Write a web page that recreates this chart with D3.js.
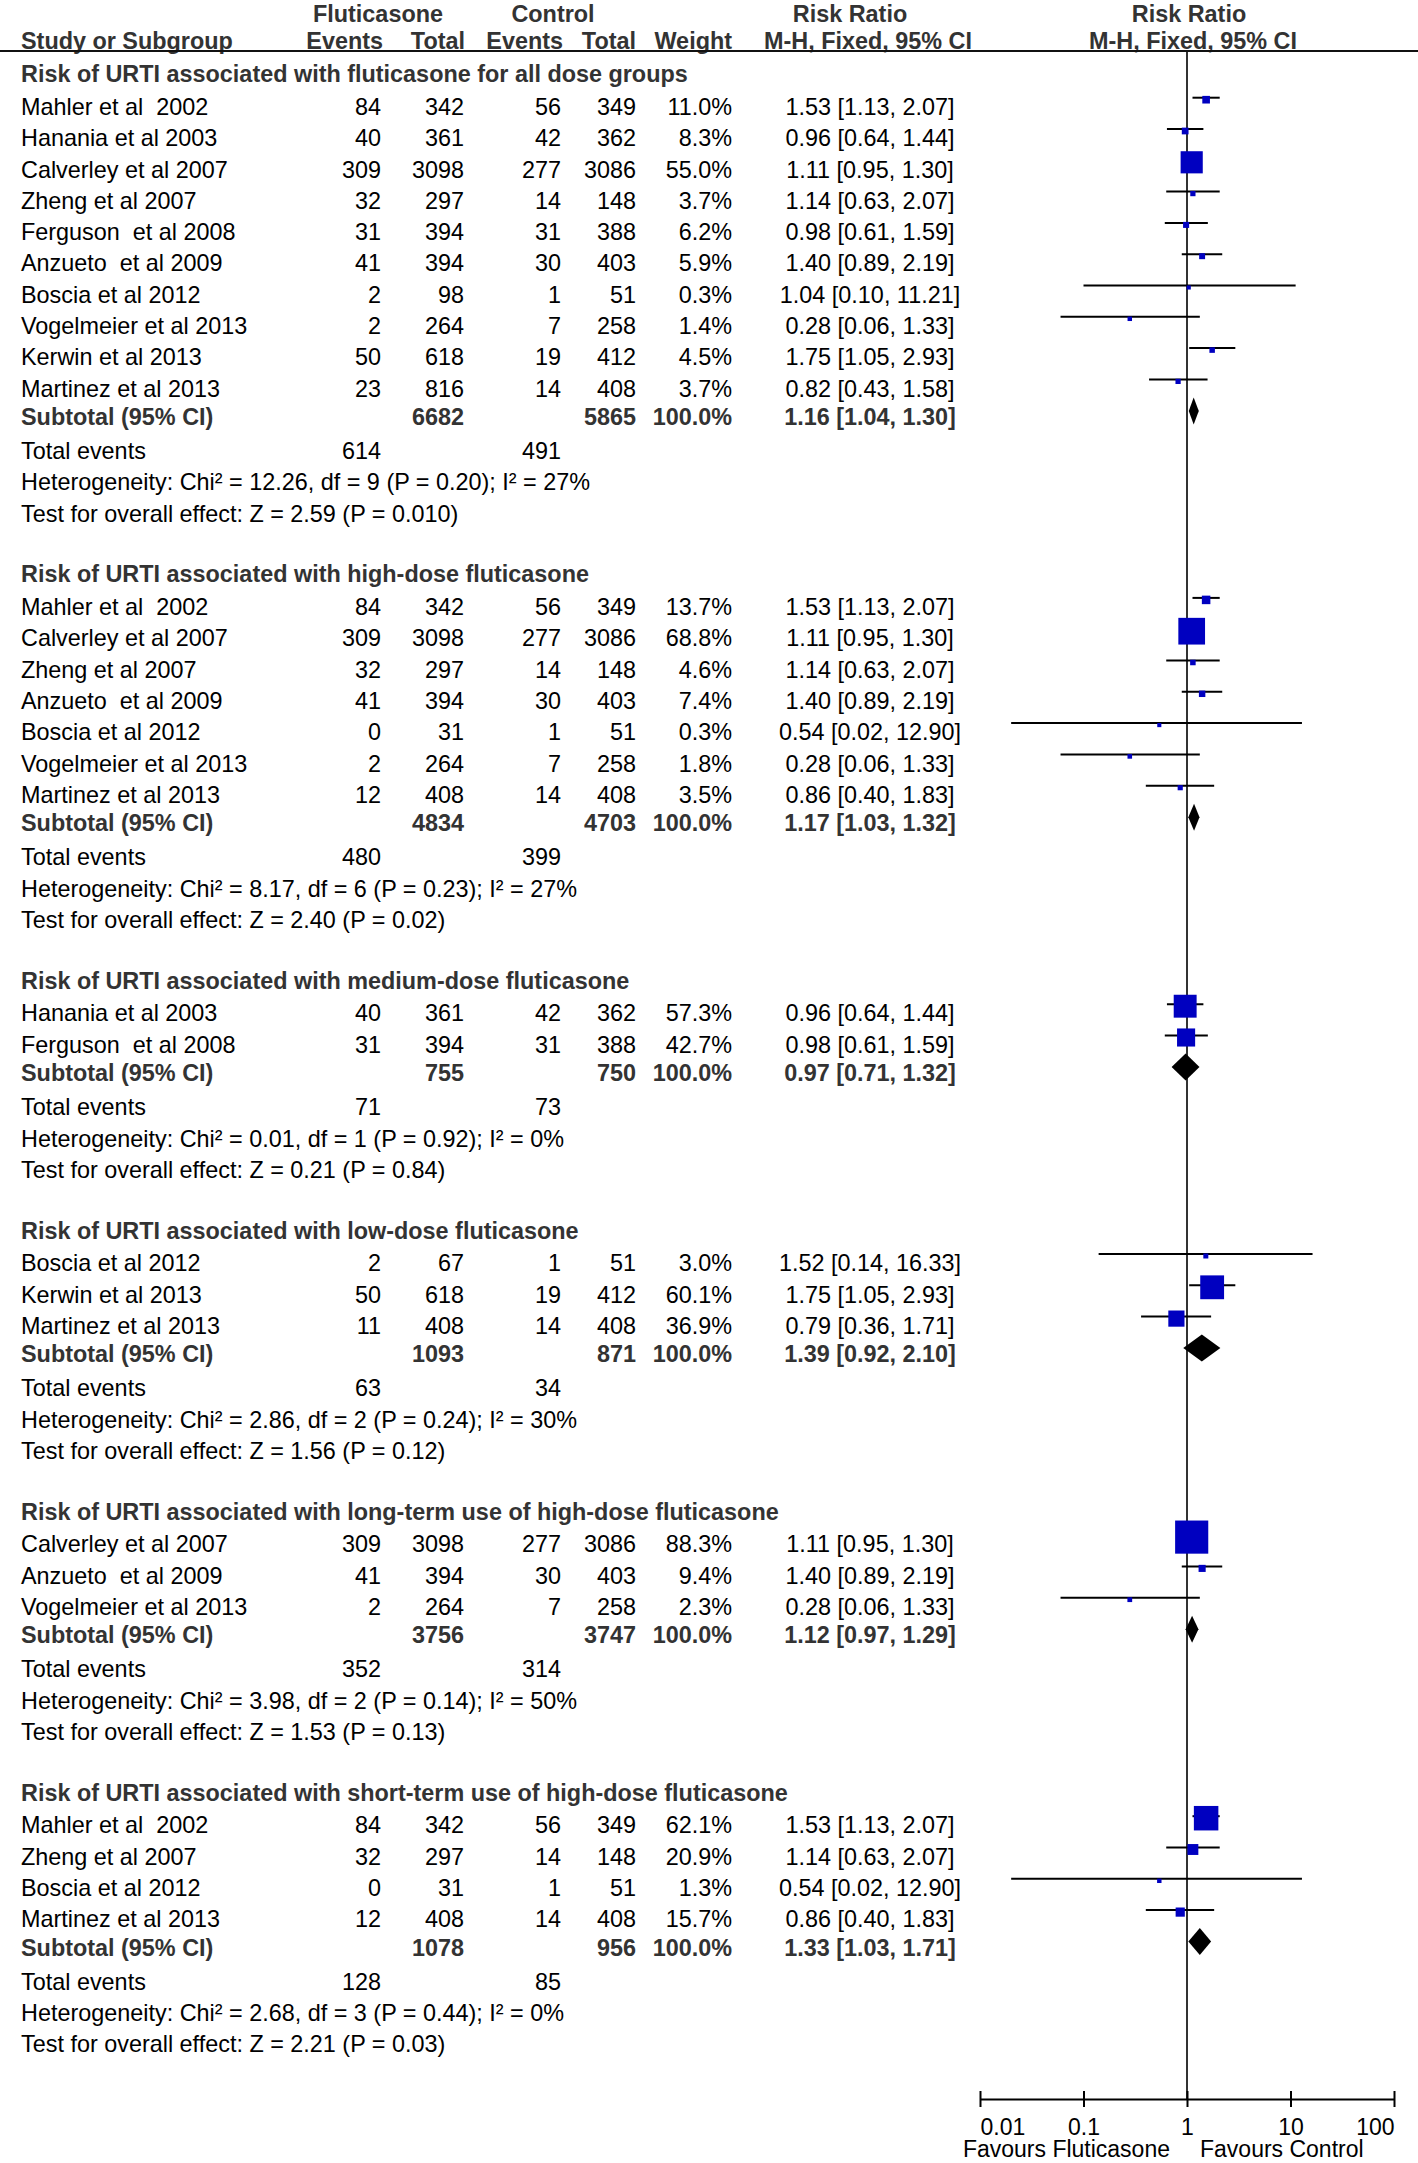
<!DOCTYPE html>
<html><head><meta charset="utf-8">
<script src="https://cdn.jsdelivr.net/npm/d3@7"></script>
<style>
body{margin:0;background:#fff}
svg{display:block}
text{font-family:"Liberation Sans",Arial,Helvetica,sans-serif;white-space:pre;}
</style>
</head><body><svg id="chart"></svg>
<script>
// ---------- DATA ----------
const groupTitles = [
  "Risk of URTI associated with fluticasone for all dose groups",
  "Risk of URTI associated with high-dose fluticasone",
  "Risk of URTI associated with medium-dose fluticasone",
  "Risk of URTI associated with low-dose fluticasone",
  "Risk of URTI associated with long-term use of high-dose fluticasone",
  "Risk of URTI associated with short-term use of high-dose fluticasone"
];
const studyNames = [
  ["Mahler et al  2002","Hanania et al 2003","Calverley et al 2007","Zheng et al 2007","Ferguson  et al 2008","Anzueto  et al 2009","Boscia et al 2012","Vogelmeier et al 2013","Kerwin et al 2013","Martinez et al 2013"],
  ["Mahler et al  2002","Calverley et al 2007","Zheng et al 2007","Anzueto  et al 2009","Boscia et al 2012","Vogelmeier et al 2013","Martinez et al 2013"],
  ["Hanania et al 2003","Ferguson  et al 2008"],
  ["Boscia et al 2012","Kerwin et al 2013","Martinez et al 2013"],
  ["Calverley et al 2007","Anzueto  et al 2009","Vogelmeier et al 2013"],
  ["Mahler et al  2002","Zheng et al 2007","Boscia et al 2012","Martinez et al 2013"]
];
const fluEvents = [
  [84,40,309,32,31,41,2,2,50,23],
  [84,309,32,41,0,2,12],
  [40,31],
  [2,50,11],
  [309,41,2],
  [84,32,0,12]
];
const fluTotal = [
  [342,361,3098,297,394,394,98,264,618,816],
  [342,3098,297,394,31,264,408],
  [361,394],
  [67,618,408],
  [3098,394,264],
  [342,297,31,408]
];
const ctlEvents = [
  [56,42,277,14,31,30,1,7,19,14],
  [56,277,14,30,1,7,14],
  [42,31],
  [1,19,14],
  [277,30,7],
  [56,14,1,14]
];
const ctlTotal = [
  [349,362,3086,148,388,403,51,258,412,408],
  [349,3086,148,403,51,258,408],
  [362,388],
  [51,412,408],
  [3086,403,258],
  [349,148,51,408]
];
const weights = [
  [11.0,8.3,55.0,3.7,6.2,5.9,0.3,1.4,4.5,3.7],
  [13.7,68.8,4.6,7.4,0.3,1.8,3.5],
  [57.3,42.7],
  [3.0,60.1,36.9],
  [88.3,9.4,2.3],
  [62.1,20.9,1.3,15.7]
];
const riskRatio = [
  [1.53,0.96,1.11,1.14,0.98,1.40,1.04,0.28,1.75,0.82],
  [1.53,1.11,1.14,1.40,0.54,0.28,0.86],
  [0.96,0.98],
  [1.52,1.75,0.79],
  [1.11,1.40,0.28],
  [1.53,1.14,0.54,0.86]
];
const ciLow = [
  [1.13,0.64,0.95,0.63,0.61,0.89,0.10,0.06,1.05,0.43],
  [1.13,0.95,0.63,0.89,0.02,0.06,0.40],
  [0.64,0.61],
  [0.14,1.05,0.36],
  [0.95,0.89,0.06],
  [1.13,0.63,0.02,0.40]
];
const ciHigh = [
  [2.07,1.44,1.30,2.07,1.59,2.19,11.21,1.33,2.93,1.58],
  [2.07,1.30,2.07,2.19,12.90,1.33,1.83],
  [1.44,1.59],
  [16.33,2.93,1.71],
  [1.30,2.19,1.33],
  [2.07,2.07,12.90,1.83]
];
const subFluTotal = [6682,4834,755,1093,3756,1078];
const subCtlTotal = [5865,4703,750,871,3747,956];
const subRR   = [1.16,1.17,0.97,1.39,1.12,1.33];
const subLow  = [1.04,1.03,0.71,0.92,0.97,1.03];
const subHigh = [1.30,1.32,1.32,2.10,1.29,1.71];
const totalFluEvents = [614,480,71,63,352,128];
const totalCtlEvents = [491,399,73,34,314,85];
const heterogeneity = [
  "Heterogeneity: Chi\u00B2 = 12.26, df = 9 (P = 0.20); I\u00B2 = 27%",
  "Heterogeneity: Chi\u00B2 = 8.17, df = 6 (P = 0.23); I\u00B2 = 27%",
  "Heterogeneity: Chi\u00B2 = 0.01, df = 1 (P = 0.92); I\u00B2 = 0%",
  "Heterogeneity: Chi\u00B2 = 2.86, df = 2 (P = 0.24); I\u00B2 = 30%",
  "Heterogeneity: Chi\u00B2 = 3.98, df = 2 (P = 0.14); I\u00B2 = 50%",
  "Heterogeneity: Chi\u00B2 = 2.68, df = 3 (P = 0.44); I\u00B2 = 0%"
];
const overallEffect = [
  "Test for overall effect: Z = 2.59 (P = 0.010)",
  "Test for overall effect: Z = 2.40 (P = 0.02)",
  "Test for overall effect: Z = 0.21 (P = 0.84)",
  "Test for overall effect: Z = 1.56 (P = 0.12)",
  "Test for overall effect: Z = 1.53 (P = 0.13)",
  "Test for overall effect: Z = 2.21 (P = 0.03)"
];
const tickValues = [0.01, 0.1, 1, 10, 100];
const tickLabels = ["0.01", "0.1", "1", "10", "100"];
const favoursLeft = "Favours Fluticasone";
const favoursRight = "Favours Control";

// ---------- LAYOUT ----------
const W = 1418, H = 2163;
const FS = 23.4;
const svg = d3.select("#chart").attr("width", W).attr("height", H);
svg.append("rect").attr("width", W).attr("height", H).attr("fill", "#fff");

const col = { name: 21, fluEv: 381, fluTot: 464, ctlEv: 561, ctlTot: 636, weight: 732, rr: 870 };
const x = d3.scaleLog().domain([0.01, 100]).range([980, 1394]);
const boxSize = d3.scaleLinear().domain([0, 100]).range([4, 37]);
const f2 = d3.format(".2f"), f1 = d3.format(".1f");
const ciText = (r, l, h) => `${f2(r)} [${f2(l)}, ${f2(h)}]`;

const g = svg.append("g");
function txt(xp, yc, s, anchor, bold, size) {
  g.append("text").attr("x", xp).attr("y", yc + 8.2)
    .attr("xml:space", "preserve")
    .attr("text-anchor", anchor || "start")
    .attr("font-size", size || FS)
    .attr("font-weight", bold ? "bold" : "normal")
    .attr("fill", bold ? "#333" : "#000")
    .text(s);
}

// header
const hy1 = 13.5;
txt(378, hy1, "Fluticasone", "middle", true);
txt(553, hy1, "Control", "middle", true);
txt(850, hy1, "Risk Ratio", "middle", true);
txt(1189, hy1, "Risk Ratio", "middle", true);
const hy = 40.5;
txt(col.name, hy, "Study or Subgroup", "start", true);
txt(col.fluEv + 2, hy, "Events", "end", true);
txt(col.fluTot + 1, hy, "Total", "end", true);
txt(col.ctlEv + 2, hy, "Events", "end", true);
txt(col.ctlTot, hy, "Total", "end", true);
txt(col.weight, hy, "Weight", "end", true);
txt(868, hy, "M-H, Fixed, 95% CI", "middle", true);
txt(1193, hy, "M-H, Fixed, 95% CI", "middle", true);

const axisY = 2099;
// vertical line of no effect
svg.append("line").attr("x1", x(1)).attr("x2", x(1)).attr("y1", 51).attr("y2", axisY)
  .attr("stroke", "#333").attr("stroke-width", 2);
// header rule
svg.append("line").attr("x1", 0).attr("x2", W).attr("y1", 51).attr("y2", 51)
  .attr("stroke", "#111").attr("stroke-width", 2);

const P = 31.3;
let y = 74;
const marks = svg.append("g");
groupTitles.forEach((title, gi) => {
  txt(col.name, y, title, "start", true);
  y += 32.7;
  studyNames[gi].forEach((name, i) => {
    txt(col.name, y, name);
    txt(col.fluEv, y, fluEvents[gi][i], "end");
    txt(col.fluTot, y, fluTotal[gi][i], "end");
    txt(col.ctlEv, y, ctlEvents[gi][i], "end");
    txt(col.ctlTot, y, ctlTotal[gi][i], "end");
    txt(col.weight, y, f1(weights[gi][i]) + "%", "end");
    txt(col.rr, y, ciText(riskRatio[gi][i], ciLow[gi][i], ciHigh[gi][i]), "middle");
    const ly = y - 9;
    marks.append("line").attr("x1", x(ciLow[gi][i])).attr("x2", x(ciHigh[gi][i]))
      .attr("y1", ly).attr("y2", ly).attr("stroke", "#000").attr("stroke-width", 2);
    const s = boxSize(weights[gi][i]);
    marks.append("rect").attr("x", x(riskRatio[gi][i]) - s / 2).attr("y", ly + 2 - s / 2)
      .attr("width", s).attr("height", s).attr("fill", "#0000c0");
    if (i < studyNames[gi].length - 1) y += P;
  });
  y += 28.5;
  txt(col.name, y, "Subtotal (95% CI)", "start", true);
  txt(col.fluTot, y, subFluTotal[gi], "end", true);
  txt(col.ctlTot, y, subCtlTotal[gi], "end", true);
  txt(col.weight, y, "100.0%", "end", true);
  txt(col.rr, y, ciText(subRR[gi], subLow[gi], subHigh[gi]), "middle", true);
  const dy = y - 6, dh = 13.5;
  marks.append("path")
    .attr("d", `M${x(subLow[gi])},${dy}L${x(subRR[gi])},${dy - dh}L${x(subHigh[gi])},${dy}L${x(subRR[gi])},${dy + dh}Z`)
    .attr("fill", "#000");
  y += 34;
  txt(col.name, y, "Total events");
  txt(col.fluEv, y, totalFluEvents[gi], "end");
  txt(col.ctlEv, y, totalCtlEvents[gi], "end");
  y += P;
  txt(col.name, y, heterogeneity[gi]);
  y += P;
  txt(col.name, y, overallEffect[gi]);
  y += 60.7;
});

// axis
const axis = d3.axisBottom(x).tickValues(tickValues)
  .tickFormat((d, i) => tickLabels[i]).tickSizeInner(8).tickSizeOuter(0);
const ag = svg.append("g").attr("transform", `translate(0,${axisY})`).call(axis);
ag.select(".domain").attr("stroke", "#000").attr("stroke-width", 2);
ag.selectAll(".tick line").attr("y1", -8).attr("y2", 8).attr("stroke", "#000").attr("stroke-width", 2);
ag.selectAll(".tick text")
  .attr("y", 36).attr("dy", null)
  .attr("font-size", 23).attr("fill", "#000")
  .attr("font-family", "'Liberation Sans',Arial,Helvetica,sans-serif")
  .attr("text-anchor", (d, i) => i === 0 ? "start" : (i === tickValues.length - 1 ? "end" : "middle"));
svg.append("text").attr("x", x(1) - 17).attr("y", 2157).attr("text-anchor", "end")
  .attr("font-size", 23).attr("fill", "#000").text(favoursLeft);
svg.append("text").attr("x", x(1) + 13).attr("y", 2157).attr("text-anchor", "start")
  .attr("font-size", 23).attr("fill", "#000").text(favoursRight);
</script>
</body></html>
